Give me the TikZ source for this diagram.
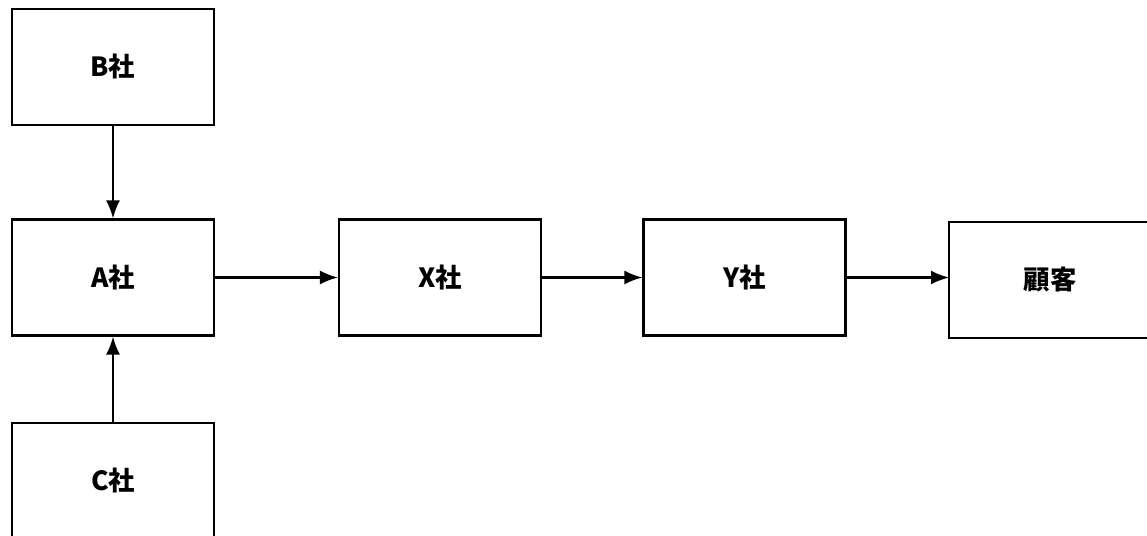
\documentclass[tikz,border=0pt]{standalone}
\usepackage{fontspec}
\newfontfamily\jpfont{Noto Sans CJK JP}
\usetikzlibrary{arrows.meta,positioning}

\begin{document}
\begin{tikzpicture}[
    firm/.style={rectangle, draw=black, line width=1.2pt, minimum width=4.04cm, minimum height=2.32cm, align=center, font=\jpfont\bfseries\fontsize{15}{18}\selectfont, fill=white},
    arrow/.style={-{Latex[length=3.6mm,width=2.8mm]}, line width=1.2pt}]

% Frame of the page, boxes at the edges are cut off
\path[use as bounding box, clip] (0,0) rectangle (22.94,-10.7);

% Firms positioned with absolute coordinates
\node[firm] (b) at (2.26, -1.34) {B社};
\node[firm] (a) at (2.26, -5.55) {A社};
\node[firm] (c) at (2.26, -9.62) {C社};
\node[firm] (x) at (8.8, -5.55) {X社};
\node[firm] (y) at (14.89, -5.55) {Y社};
\node[firm, draw=none, outer sep=0pt] (customer) at (21.0, -5.6) {顧客};
% customer box runs off the right edge of the page
\draw[line width=1.2pt] (customer.north east) -- (customer.north west)
    -- (customer.south west) -- (customer.south east);

% Supply into A
\draw[arrow] (b.south) -- (a.north);
\draw[arrow] (c.north) -- (a.south);

% Chain to the customer
\draw[arrow] (a.east) -- (x.west);
\draw[arrow] (x.east) -- (y.west);
\draw[arrow] (y.east) -- (y.east -| customer.west);

\end{tikzpicture}
\end{document}
